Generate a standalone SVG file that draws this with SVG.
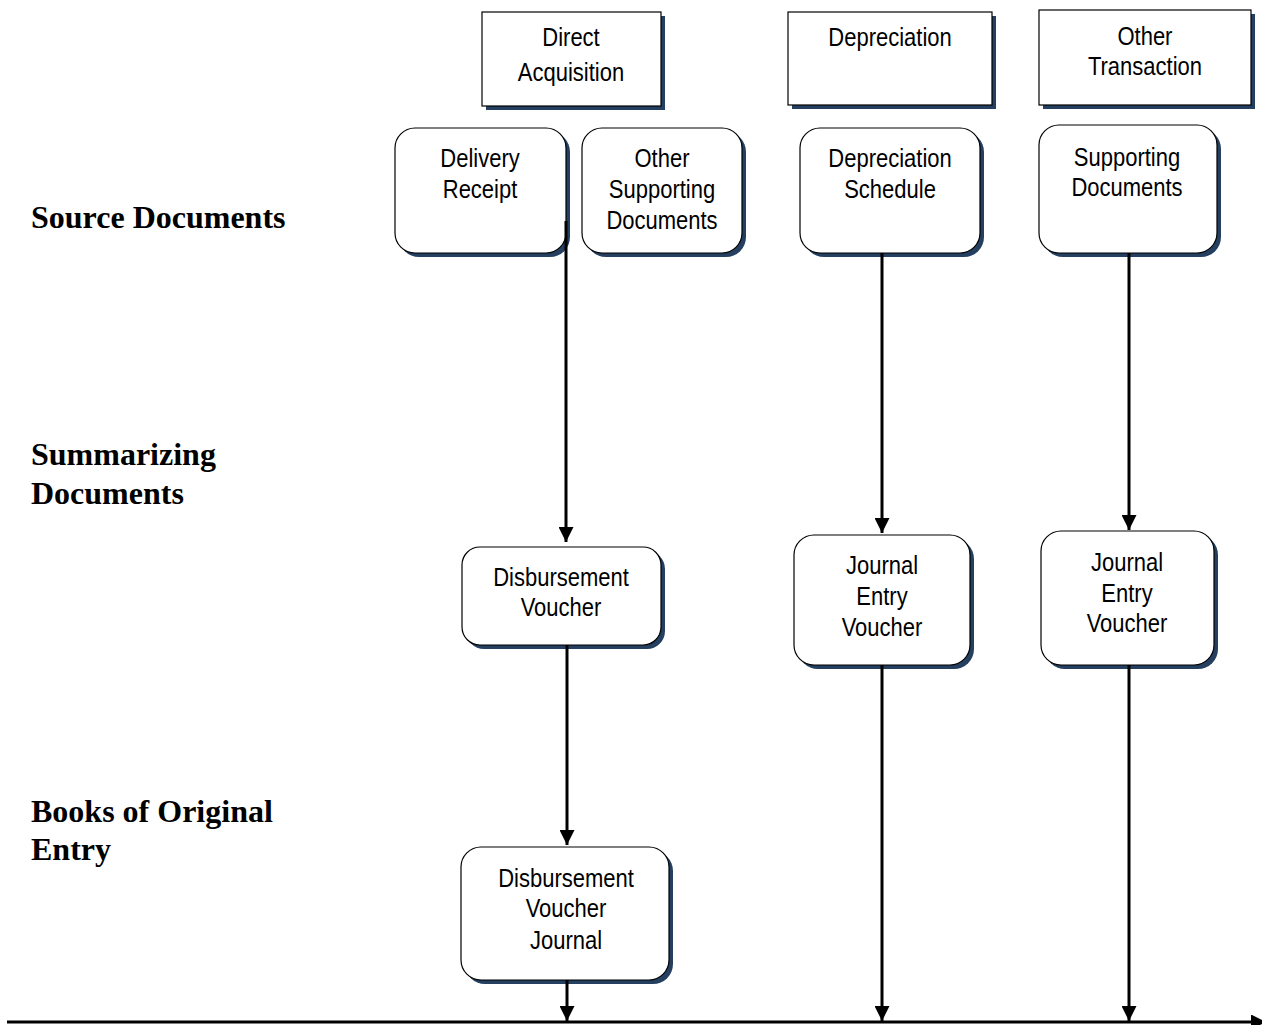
<svg xmlns="http://www.w3.org/2000/svg" width="1262" height="1025" viewBox="0 0 1262 1025">
<style>
.box{fill:#fff;stroke:#000;stroke-width:1.2}
.sh{fill:#243F60}
.t{font-family:"Liberation Sans",Arial,sans-serif;font-size:25px;fill:#000;text-anchor:middle}
.lbl{font-family:"Liberation Serif","Times New Roman",serif;font-size:32px;font-weight:bold;fill:#000}
.c{stroke:#000;stroke-width:3;fill:none}
</style>
<defs>
<marker id="ah" viewBox="0 0 10 10" refX="10" refY="5" markerWidth="5" markerHeight="5" markerUnits="strokeWidth" orient="auto">
<path d="M0,0 L10,5 L0,10 z" fill="#000"/>
</marker>
</defs>
<rect width="1262" height="1025" fill="#fff"/>
<g id="labels">
<text class="lbl" x="31" y="228">Source Documents</text>
<text class="lbl" x="31" y="465">Summarizing</text>
<text class="lbl" x="31" y="504">Documents</text>
<text class="lbl" x="31" y="822">Books of Original</text>
<text class="lbl" x="31" y="860">Entry</text>
</g>
<g id="n-direct">
<rect class="sh" x="486" y="16" width="179" height="94"/>
<rect class="box" x="482" y="12" width="179" height="94"/>
<g transform="scale(0.88 1)">
<text class="t" x="648.9" y="46">Direct</text>
<text class="t" x="648.9" y="81">Acquisition</text>
</g>
</g>
<g id="n-depr">
<rect class="sh" x="792" y="16" width="204" height="93"/>
<rect class="box" x="788" y="12" width="204" height="93"/>
<g transform="scale(0.88 1)">
<text class="t" x="1011.4" y="46">Depreciation</text>
</g>
</g>
<g id="n-othertx">
<rect class="sh" x="1043" y="14" width="212" height="95"/>
<rect class="box" x="1039" y="10" width="212" height="95"/>
<g transform="scale(0.88 1)">
<text class="t" x="1301.1" y="45">Other</text>
<text class="t" x="1301.1" y="75">Transaction</text>
</g>
</g>
<g id="n-delivery">
<rect class="sh" x="399" y="132" width="171" height="125" rx="20"/>
<rect class="box" x="395" y="128" width="171" height="125" rx="20"/>
<g transform="scale(0.88 1)">
<text class="t" x="545.5" y="167">Delivery</text>
<text class="t" x="545.5" y="198">Receipt</text>
</g>
</g>
<g id="n-othersup">
<rect class="sh" x="586" y="132" width="160" height="125" rx="20"/>
<rect class="box" x="582" y="128" width="160" height="125" rx="20"/>
<g transform="scale(0.88 1)">
<text class="t" x="752.3" y="167">Other</text>
<text class="t" x="752.3" y="198">Supporting</text>
<text class="t" x="752.3" y="229">Documents</text>
</g>
</g>
<g id="n-deprsched">
<rect class="sh" x="804" y="132" width="180" height="125" rx="20"/>
<rect class="box" x="800" y="128" width="180" height="125" rx="20"/>
<g transform="scale(0.88 1)">
<text class="t" x="1011.4" y="167">Depreciation</text>
<text class="t" x="1011.4" y="198">Schedule</text>
</g>
</g>
<g id="n-supdocs">
<rect class="sh" x="1043" y="129" width="178" height="128" rx="20"/>
<rect class="box" x="1039" y="125" width="178" height="128" rx="20"/>
<g transform="scale(0.88 1)">
<text class="t" x="1280.7" y="166">Supporting</text>
<text class="t" x="1280.7" y="196">Documents</text>
</g>
</g>
<g id="n-dv">
<rect class="sh" x="466" y="551" width="199" height="98" rx="18"/>
<rect class="box" x="462" y="547" width="199" height="98" rx="18"/>
<g transform="scale(0.88 1)">
<text class="t" x="637.5" y="586">Disbursement</text>
<text class="t" x="637.5" y="616">Voucher</text>
</g>
</g>
<g id="n-jev1">
<rect class="sh" x="798" y="539" width="176" height="130" rx="20"/>
<rect class="box" x="794" y="535" width="176" height="130" rx="20"/>
<g transform="scale(0.88 1)">
<text class="t" x="1002.3" y="574">Journal</text>
<text class="t" x="1002.3" y="605">Entry</text>
<text class="t" x="1002.3" y="636">Voucher</text>
</g>
</g>
<g id="n-jev2">
<rect class="sh" x="1045" y="535" width="173" height="134" rx="20"/>
<rect class="box" x="1041" y="531" width="173" height="134" rx="20"/>
<g transform="scale(0.88 1)">
<text class="t" x="1280.7" y="571">Journal</text>
<text class="t" x="1280.7" y="602">Entry</text>
<text class="t" x="1280.7" y="632">Voucher</text>
</g>
</g>
<g id="n-dvj">
<rect class="sh" x="465" y="851" width="208" height="133" rx="20"/>
<rect class="box" x="461" y="847" width="208" height="133" rx="20"/>
<g transform="scale(0.88 1)">
<text class="t" x="643.2" y="887">Disbursement</text>
<text class="t" x="643.2" y="917">Voucher</text>
<text class="t" x="643.2" y="949">Journal</text>
</g>
</g>
<g id="connectors">
<line class="c" x1="566" y1="221" x2="566" y2="542" marker-end="url(#ah)"/>
<line class="c" x1="567" y1="645" x2="567" y2="845" marker-end="url(#ah)"/>
<line class="c" x1="567" y1="980" x2="567" y2="1021" marker-end="url(#ah)"/>
<line class="c" x1="882" y1="253" x2="882" y2="533" marker-end="url(#ah)"/>
<line class="c" x1="882" y1="665" x2="882" y2="1021" marker-end="url(#ah)"/>
<line class="c" x1="1129" y1="253" x2="1129" y2="530" marker-end="url(#ah)"/>
<line class="c" x1="1129" y1="665" x2="1129" y2="1021" marker-end="url(#ah)"/>
<line class="c" x1="7" y1="1022" x2="1266" y2="1022" marker-end="url(#ah)"/>
</g>
</svg>
